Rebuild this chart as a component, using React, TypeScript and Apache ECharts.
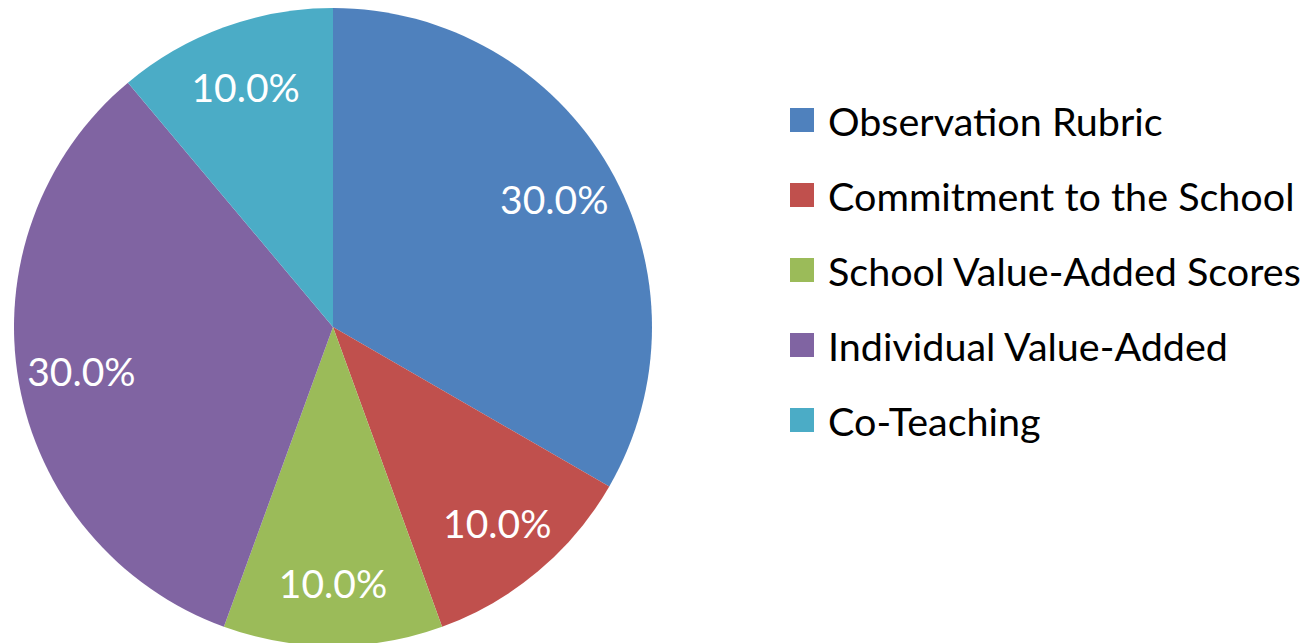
import React, { useEffect, useRef } from "react";
import * as echarts from "echarts";

const categories = [
  "Observation Rubric",
  "Commitment to the School",
  "School Value-Added Scores",
  "Individual Value-Added",
  "Co-Teaching",
];
const values = [30, 10, 10, 30, 10];
const colors = ["#4F81BD", "#C0504D", "#9BBB59", "#8064A2", "#4BACC6"];

export default function App() {
  const ref = useRef<HTMLDivElement>(null);
  useEffect(() => {
    document.body.style.margin = "0";
    const chart = echarts.init(ref.current!, null, { renderer: "svg" });
    const font = "Lato, 'Open Sans', sans-serif";
    const data = categories.map((name, i) => ({
      name,
      value: values[i],
      itemStyle: { color: colors[i] },
    }));
    chart.setOption({
      animation: false,
      legend: {
        orient: "vertical",
        left: 785,
        top: 95,
        itemWidth: 24,
        itemHeight: 24,
        itemGap: 35,
        icon: "rect",
        textStyle: { fontFamily: font, fontSize: 39.5, lineHeight: 40, color: "#000", padding: [0, 0, 0, 9] },
        data: categories,
      },
      series: [
        {
          type: "pie",
          center: [333, 327],
          radius: [0, 319],
          startAngle: 90,
          clockwise: true,
          label: { show: false },
          labelLine: { show: false },
          emphasis: { disabled: true },
          data,
        },
        {
          type: "pie",
          center: [333, 327],
          radius: [186, 319],
          startAngle: 90,
          clockwise: true,
          silent: true,
          itemStyle: { color: "transparent" },
          labelLine: { show: false },
          emphasis: { disabled: true },
          label: {
            show: true,
            position: "inside",
            color: "#fff",
            fontFamily: font,
            fontSize: 39,
            formatter: (p: any) => p.value.toFixed(1) + "%",
          },
          data: categories.map((name, i) => ({
            name,
            value: values[i],
            itemStyle: { color: "transparent" },
          })),
        },
      ],
    });
    return () => chart.dispose();
  }, []);
  return <div ref={ref} style={{ width: 1307, height: 643 }} />;
}
